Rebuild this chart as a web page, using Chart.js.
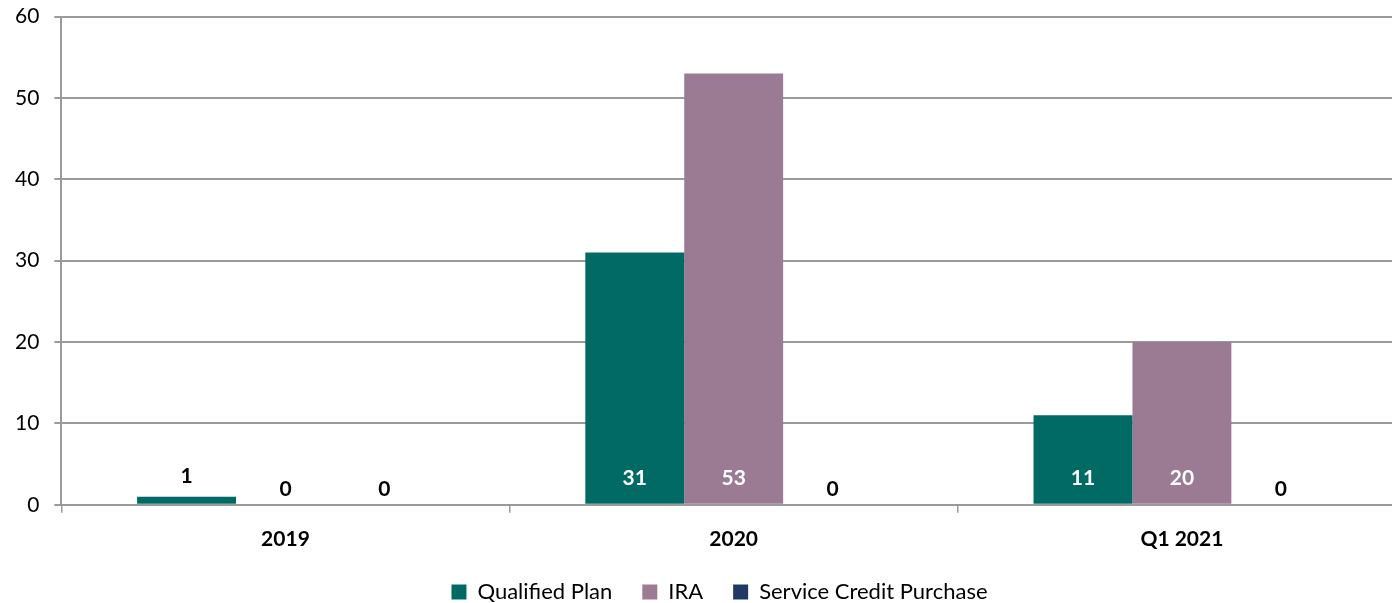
<!DOCTYPE html>
<html>
<head>
<meta charset="utf-8">
<script src="https://cdn.jsdelivr.net/npm/chart.js@4"></script>
<style>
  html, body { margin: 0; padding: 0; background: #fff; }
  #frame { width: 1392px; height: 603px; overflow: hidden; }
  #wrap { width: 1406px; height: 624px; margin-top: -11px; }
</style>
</head>
<body>
<div id="frame"><div id="wrap"><canvas id="rolloverChart"></canvas></div></div>
<script>
// values
const categories = ['2019', '2020', 'Q1 2021'];
const qualifiedPlan = [1, 31, 11];
const ira = [0, 53, 20];
const serviceCredit = [0, 0, 0];
const yTicks = [0, 10, 20, 30, 40, 50, 60];

const FONT = 'Lato, "Open Sans", sans-serif';
const gridGrey = '#9a9a9a';

// labels: inside the base in white when the bar is tall, otherwise above in black
const barLabels = {
    id: 'barLabels',
    afterDatasetsDraw(chart) {
        const ctx = chart.ctx;
        ctx.save();
        ctx.font = 'bold 21px ' + FONT;
        ctx.textAlign = 'center';
        ctx.textBaseline = 'middle';
        chart.data.datasets.forEach((ds, i) => {
            chart.getDatasetMeta(i).data.forEach((bar, j) => {
                const v = ds.data[j];
                const h = bar.base - bar.y;
                if (h > 40) {
                    ctx.fillStyle = '#ffffff';
                    ctx.fillText(String(v), bar.x, bar.base - 26);
                } else {
                    ctx.fillStyle = '#000000';
                    ctx.fillText(String(v), bar.x, bar.y - (v === 0 ? 16 : 20));
                }
            });
        });
        ctx.restore();
    }
};

// centre the legend like the original (plot runs past the right edge)
const legendShift = {
    id: 'legendShift',
    afterLayout(chart) {
        if (chart.legend) chart.legend.left += 33;
    }
};

const ctx = document.getElementById('rolloverChart').getContext('2d');
new Chart(ctx, {
    type: 'bar',
    data: {
        labels: categories,
        datasets: [{
            label: 'Qualified Plan',
            data: qualifiedPlan,
            backgroundColor: '#016a64'
        }, {
            label: 'IRA',
            data: ira,
            backgroundColor: '#9b7b93'
        }, {
            label: 'Service Credit Purchase',
            data: serviceCredit,
            backgroundColor: '#203864'
        }]
    },
    options: {
        responsive: true,
        maintainAspectRatio: false,
        animation: false,
        layout: { padding: { top: 0, right: 0, left: 0, bottom: 0 } },
        datasets: {
            bar: { categoryPercentage: 0.662, barPercentage: 1.0 }
        },
        scales: {
            x: {
                offset: true,
                // pull the legend up closer to the category labels
                afterFit: scale => { scale.height -= 15; },
                grid: {
                    offset: true,
                    drawOnChartArea: false,
                    drawTicks: true,
                    tickLength: 8,
                    color: gridGrey,
                    lineWidth: 1.5
                },
                border: { display: true, color: gridGrey, width: 2 },
                ticks: {
                    color: '#000',
                    padding: 14,
                    font: { family: FONT, size: 21, weight: 'bold' }
                }
            },
            y: {
                min: 0,
                max: 60,
                afterBuildTicks: axis => { axis.ticks = yTicks.map(v => ({ value: v })); },
                grid: {
                    color: gridGrey,
                    lineWidth: 2,
                    tickLength: 7
                },
                border: { display: true, color: gridGrey, width: 2 },
                ticks: {
                    color: '#000',
                    padding: 15,
                    font: { family: FONT, size: 21 }
                }
            }
        },
        plugins: {
            legend: {
                position: 'bottom',
                labels: {
                    color: '#000',
                    boxWidth: 15,
                    boxHeight: 15,
                    padding: 30,
                    font: { family: FONT, size: 22 }
                }
            },
            tooltip: { enabled: false }
        }
    },
    plugins: [barLabels, legendShift]
});
</script>
</body>
</html>
